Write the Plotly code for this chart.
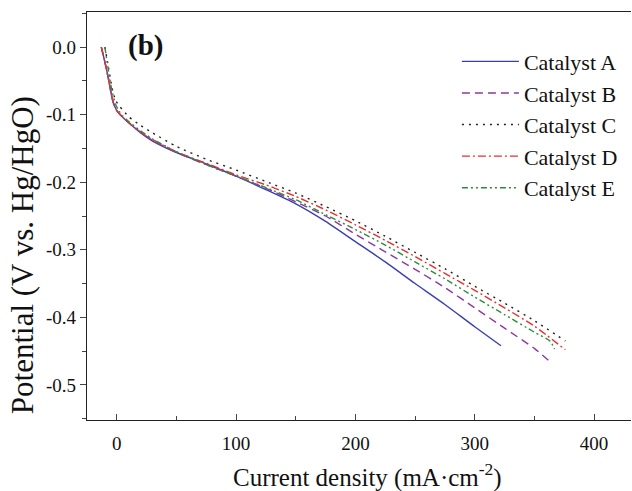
import plotly.graph_objects as go

# Polarization curves
a_x = [-13, -10, -7, -5, -3, 0, 5, 10, 20, 30, 50, 75, 100, 125, 150, 175, 200, 225, 250, 275, 300, 322]
a_y = [0.0, -0.022, -0.047, -0.066, -0.082, -0.094, -0.104, -0.112, -0.127, -0.139, -0.156, -0.173,
       -0.191, -0.211, -0.232, -0.258, -0.288, -0.318, -0.350, -0.381, -0.414, -0.442]

b_x = [-13, -10, -7, -5, -3, 0, 5, 10, 20, 30, 50, 75, 100, 125, 150, 175, 200, 225, 250, 275, 300, 325, 350, 364]
b_y = [0.0, -0.022, -0.047, -0.066, -0.082, -0.094, -0.104, -0.112, -0.126, -0.138, -0.156, -0.174,
       -0.191, -0.209, -0.229, -0.250, -0.277, -0.303, -0.329, -0.356, -0.386, -0.416, -0.446, -0.467]

c_x = [-10, -7, -4, -1, 2.5, 10, 20, 30, 50, 75, 100, 125, 150, 175, 200, 225, 250, 275, 300, 325, 350, 376]
c_y = [0.0, -0.03, -0.06, -0.079, -0.088, -0.103, -0.116, -0.127, -0.147, -0.166, -0.182, -0.199,
       -0.216, -0.236, -0.257, -0.280, -0.304, -0.328, -0.354, -0.379, -0.405, -0.435]

d_x = [-13, -10, -7, -5, -3, 0, 5, 10, 20, 30, 50, 75, 100, 125, 150, 175, 200, 225, 250, 275, 300, 325, 350, 376]
d_y = [0.0, -0.022, -0.047, -0.066, -0.082, -0.094, -0.104, -0.112, -0.126, -0.137, -0.155, -0.172,
       -0.189, -0.204, -0.221, -0.241, -0.263, -0.286, -0.310, -0.335, -0.360, -0.386, -0.413, -0.448]

e_x = [-10, -7, -4, -1, 2, 5, 10, 20, 30, 50, 75, 100, 125, 150, 175, 200, 225, 250, 275, 300, 325, 350, 363, 367]
e_y = [0.0, -0.035, -0.065, -0.085, -0.095, -0.102, -0.110, -0.124, -0.136, -0.155, -0.174, -0.191,
       -0.208, -0.226, -0.248, -0.270, -0.293, -0.318, -0.343, -0.370, -0.396, -0.422, -0.435, -0.447]

names = ["Catalyst A", "Catalyst B", "Catalyst C", "Catalyst D", "Catalyst E"]
colors = ["#3a3fb0", "#8a3aa0", "#222222", "#e8302e", "#2e8b3c"]
dashes = ["solid", "8px,5px", "2px,5px", "8px,3px,2px,3px", "6px,3px,2px,3px,2px,3px"]
series = [(a_x, a_y), (b_x, b_y), (c_x, c_y), (d_x, d_y), (e_x, e_y)]

y_ticks = [0.0, -0.1, -0.2, -0.3, -0.4, -0.5]
y_labels = ["0.0", "-0.1", "-0.2", "-0.3", "-0.4", "-0.5"]
x_ticks = [0, 100, 200, 300, 400]

fig = go.Figure()
for (xs, ys), name, col, dash in zip(series, names, colors, dashes):
    fig.add_trace(go.Scatter(x=xs, y=ys, mode="lines", name=name, legendgroup=name,
                             line=dict(color=col, width=1.4, dash=dash, shape="spline", smoothing=0.6)))

serif = "Liberation Serif, Times New Roman, serif"
fig.update_layout(
    width=632, height=491,
    margin=dict(l=87, r=1, t=12, b=71),
    plot_bgcolor="white", paper_bgcolor="white",
    font=dict(family=serif, size=19, color="#111111"),
    showlegend=True,
    legend=dict(x=0.68, y=0.93, xanchor="left", yanchor="top", bgcolor="rgba(0,0,0,0)",
                font=dict(size=22, family=serif), itemwidth=57, tracegroupgap=0),
    annotations=[
        dict(text="<b>(b)</b>", x=0.072, y=0.963, xref="paper", yref="paper",
             xanchor="left", yanchor="top", showarrow=False,
             font=dict(size=29, family=serif, color="#111111")),
        # axis titles sit off-centre in the original, so they are placed as annotations
        dict(text="Potential (V vs. Hg/HgO)", x=-0.1195, y=0.404, xref="paper", yref="paper",
             textangle=-90, xanchor="center", yanchor="middle", showarrow=False,
             font=dict(size=31, family=serif, color="#111111")),
        dict(text="Current density (mA·cm<sup>-2</sup>)", x=0.515, y=-0.135, xref="paper", yref="paper",
             xanchor="center", yanchor="middle", showarrow=False,
             font=dict(size=25, family=serif, color="#111111")),
    ],
)
fig.update_xaxes(
    range=[-25, 431], tickvals=x_ticks, ticks="inside", ticklen=6, tickwidth=1.2,
    ticklabelstandoff=6, automargin=False,
    showline=True, linecolor="#222222", linewidth=1.4, mirror=True, showgrid=False, zeroline=False,
    minor=dict(ticks="inside", dtick=50, tick0=0, ticklen=4, tickwidth=1, showgrid=False),
)
fig.update_yaxes(
    range=[-0.552, 0.052], tickvals=y_ticks, ticktext=y_labels, ticks="outside", ticklen=6, tickwidth=1.2,
    automargin=False,
    showline=True, linecolor="#222222", linewidth=1.4, showgrid=False, zeroline=False,
    minor=dict(ticks="outside", dtick=0.05, tick0=0, ticklen=4, tickwidth=1, showgrid=False),
)

# the page's default body margin would push the fixed-size figure past the window
fig.write_html("out.html", config={"displayModeBar": False},
               post_script="document.body.style.margin='0';")
